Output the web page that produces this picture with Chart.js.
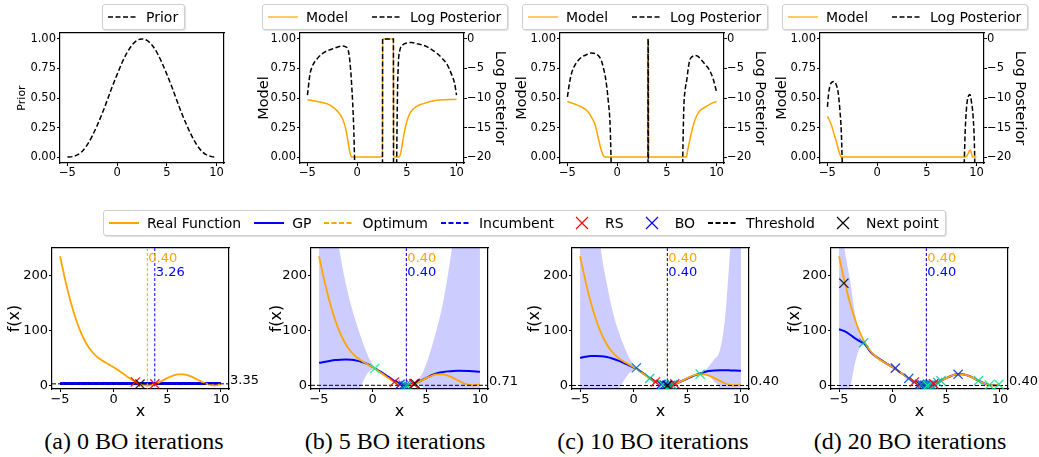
<!DOCTYPE html>
<html>
<head>
<meta charset="utf-8">
<script src="https://cdn.jsdelivr.net/npm/chart.js@4.4.1/dist/chart.umd.min.js"></script>
<style>
  body { margin: 0; width: 1039px; height: 457px; background: #fff; position: relative; overflow: hidden; font-family: "DejaVu Sans", sans-serif; }
  canvas { position: absolute; }
  .legend { position: absolute; z-index: 2; height: 26px; box-sizing: border-box; border: 1px solid #cfcfcf; border-radius: 3px; background: #fff;
            display: flex; align-items: center; padding: 0 6px 0 5px; font-size: 14px; color: #000; white-space: nowrap; box-shadow: 1px 1px 1px rgba(0,0,0,0.12); }
  .legend svg { margin-right: 8px; }
  .legend span { margin-right: 13px; }
  .legend.wide span { margin-right: 24px; }
  .legend span:last-child { margin-right: 0; }
  .caption { position: absolute; width: 300px; text-align: center; font-family: "Liberation Serif", serif; font-size: 24px; top: 428px; }
</style>
</head>
<body>
<script>
// ---------- data ----------
const xTicks = [-5, 0, 5, 10];
const probTicks = [0, 0.25, 0.5, 0.75, 1];
const logTicks = [0, -5, -10, -15, -20];
const fTicks = [0, 100, 200];
const captions = ['(a) 0 BO iterations', '(b) 5 BO iterations', '(c) 10 BO iterations', '(d) 20 BO iterations'];

// top row
const priorX = [-5,-4.5,-4,-3.5,-3,-2.5,-2,-1.5,-1,-0.5,0,0.5,1,1.5,2,2.5,3,3.5,4,4.5,5,5.5,6,6.5,7,7.5,8,8.5,9,9.5,10];
const priorY = [0,0.004,0.018,0.05,0.105,0.18,0.27,0.37,0.48,0.595,0.70,0.80,0.885,0.948,0.987,1,0.987,0.948,0.885,0.80,0.70,0.595,0.48,0.37,0.27,0.18,0.105,0.05,0.018,0.004,0];

const model5X = [-5,-4,-3,-2.4,-1.8,-1.4,-1.1,-0.9,-0.7,-0.55,2.55,2.56,3.65,3.66,4.2,4.4,4.6,4.9,5.3,6,6.6,8,10];
const model5Y = [0.485,0.47,0.45,0.42,0.37,0.31,0.22,0.12,0.03,0,0,1,1,0,0,0.04,0.14,0.27,0.37,0.43,0.45,0.48,0.49];
const logPost5X = [-5,-4.75,-4.5,-4,-3.5,-3,-2.5,-2,-1.5,-1.2,-0.9,-0.75,-0.57,-0.33,-0.2, 1, 2.55,2.56,3.65,3.66, 3.8, 3.95,4.05,4.15,4.3,4.6,5,5.5,6,6.5,7,7.5,8,8.5,9,9.5,9.8,10];
const logPost5Y = [-9.5,-6,-4.6,-3.3,-2.5,-2,-1.7,-1.4,-1.2,-1.3,-1.9,-3.5,-7.3,-15.8,-25, null, -25,0,0,-25, null, -25,-10,-4,-1.9,-1.0,-0.7,-0.6,-0.8,-1.0,-1.3,-1.8,-2.4,-3.2,-4.2,-6,-7.5,-9.5];

const model10X = [-5,-4,-3.5,-3,-2.6,-2.2,-1.9,-1.6,-1.4,-1.2,3.08,3.09,3.15,3.16,6.95,7.1,7.3,7.6,7.9,8.3,8.8,9.4,10];
const model10Y = [0.47,0.44,0.42,0.39,0.34,0.27,0.16,0.06,0.015,0,0,1,1,0,0,0.06,0.14,0.25,0.33,0.39,0.42,0.45,0.47];
const logPost10X = [-5,-4.8,-4.6,-4.3,-3.9,-3.5,-3,-2.6,-2.2,-1.9,-1.6,-1.4,-1.15,-0.9,-0.7,-0.55, 1, 3.1,3.11,3.13,3.14, 5, 6.55,6.7,6.85,7,7.15,7.3,7.55,7.8,8.1,8.5,8.9,9.3,9.7,10];
const logPost10Y = [-9.8,-7.5,-5.9,-4.6,-3.6,-3.0,-2.6,-2.4,-2.5,-2.8,-3.6,-4.8,-6.8,-10.4,-15,-25, null, -25,0,0,-25, null, -25,-12,-8.5,-7,-5,-3.6,-3.0,-2.8,-2.9,-3.6,-4.4,-5.3,-7,-9];

const model20X = [-5,-4.8,-4.6,-4.35,-4.1,-3.85,-3.6,8.9,9.15,9.35,9.5,9.6,10];
const model20Y = [0.344,0.31,0.27,0.2,0.13,0.05,0,0,0.03,0.06,0.03,0,0];
const logPost20X = [-5,-4.9,-4.77,-4.55,-4.33,-4.13,-3.93,-3.75,-3.6,-3.45, 0, 8.7,8.85,9,9.15,9.33,9.5,9.66,9.8,9.85];
const logPost20Y = [-11.5,-9.5,-8.1,-7.3,-7.2,-7.7,-9,-12,-16,-25, null, -25,-16,-11.5,-9.8,-9.4,-10.8,-13.3,-19,-25];

// bottom row
const realX = [-5,-4.5,-4,-3.5,-3,-2.5,-2,-1.5,-1,-0.5,0,0.5,1,1.5,2,2.5,3,3.14,3.5,4,4.5,5,5.5,6,6.5,7,7.5,8,8.5,9,9.42,9.5,10];
const realY = [235.1,190.3,151.5,119.3,93.9,74.7,61.1,51.7,44.8,39.2,33.5,27.2,20.3,13.3,7.1,2.6,0.5,0.4,1.1,4.1,8.7,13.7,18.1,20.6,20.7,18.4,14.2,9.2,4.4,1.3,0.4,0.5,2.5];
const optimumX = 3.14;
const optimumVal = 0.40;
const thresholds = [3.35, 0.71, 0.40, 0.40];
const incumbentX = [3.83, 3.14, 3.14, 3.14];
const incumbentVal = [3.26, 0.40, 0.40, 0.40];

const gp0X = [-5, 10];
const gp0Mean = [4.2, 4.2];
const gp0Upper = [5, 5];
const gp0Lower = [3.4, 3.4];

const gp5X = [-5,-4,-3.5,-3,-2.5,-2,-1.5,-1,-0.5,0,0.2,0.5,1,1.5,2,2.5,3,3.5,4,4.5,5,5.5,6,6.5,7,7.5,8,9,10];
const gp5Mean = [41.5,45,46.5,47.3,47.6,47,45.5,43,39.5,34,31.5,28,22,15.5,9,4,1.5,2,5,9,14,19,22.5,24.5,26,26.8,27,26.5,25.3];
const gp5Upper = [600,400,300,235,185,145,112,83,57,38,32,30,25,18,10,5,2.5,4,8,18,40,70,105,145,200,265,335,480,620];
const gp5Lower = [-517,-310,-207,-140,-90,-51,-21,3,22,30,31,26,19,13,8,3,0.5,0,2,0,-12,-32,-60,-96,-148,-211,-281,-427,-569];

const gp10X = [-5,-4.5,-4,-3.5,-3,-2.5,-2,-1.5,-1,-0.5,0,0.2,0.5,1,1.5,2,2.5,3,3.5,4,4.5,5,5.5,6,6.2,6.5,7,7.5,8,8.5,9,9.5,10];
const gp10Mean = [50.6,52.5,53.8,54,53.5,52,49.5,46,42,37.5,33,32,28,21,14,8,3.5,1,1.5,4,8.5,13,17.5,21,22,24,26.5,27.8,28,28,27.8,27.5,27];
const gp10Upper = [700,560,440,330,240,185,138,104,77,54,37,32.5,29,22,15,9,4.5,1.8,2.5,5.5,10.5,15.5,20,22.5,22.5,26,35,48,62,120,250,400,560];
const gp10Lower = [-599,-455,-332,-222,-133,-81,-39,-12,7,21,29,31.5,27,20,13,7,2.5,0.2,0.5,2.5,6.5,10.5,15,19.5,21.5,22,18,7.6,-6,-64,-194,-345,-506];

const gp20X = [-5,-4.5,-4,-3.5,-3,-2.7,-2.5,-2,-1.5,-1,-0.5,0,0.5,1,1.5,2,2.5,3,3.14,3.5,4,4.5,5,5.5,6,6.5,7,7.5,8,8.5,9,9.5,10];
const gp20Mean = [102.4,99,93,86,80,77,73,60,52,45.5,39.5,33.5,27.2,20.3,13.3,7.1,2.6,0.5,0.4,1.1,4.1,8.7,13.7,18.1,20.6,20.7,18.4,14.2,9.2,4.4,1.3,0.6,2];
const gp20Upper = [330,250,195,130,88,78,75,63,55,48,41,35,28.5,21.5,14.3,8,3.4,1.2,1,1.8,5,9.6,14.7,19.1,21.5,21.6,19.4,15.2,10.2,5.3,2.2,1.5,3];
const gp20Lower = [-125,-52,-9,42,72,76,71,57,49,43,38,32,26,19.1,12.3,6.2,1.8,-0.2,-0.2,0.4,3.2,7.8,12.7,17.1,19.7,19.8,17.4,13.2,8.2,3.5,0.4,-0.3,1];

const rsX = [2.03, 3.83];
const rsY = [6.8, 3.26];
const bo5X = [2.55, 2.85, 3.05, 3.25, 0.2];
const bo5Y = [2.3, 0.9, 0.45, 0.45, 31.5];
const bo10X = [2.55, 2.85, 3.05, 3.2, 0.25, 3.4, 3.6, 1.5, 6.2, 2.7];
const bo10Y = [2.3, 1.2, 0.5, 0.4, 32.5, 0.7, 1.5, 13.3, 21, 1.8];
const bo20X = [2.5, 3.0, 0.25, 6.1, 3.2, 2.8, 1.5, 3.35, 3.6, 3.1, 2.65, 4.2, 3.45, 3.8, -2.7, 4.5, 8.0, 9.0, 9.9, 3.25];
const bo20Y = [2.6, 0.5, 32, 20.7, 0.4, 1.2, 13.3, 0.6, 1.5, 0.45, 2.0, 5.8, 0.9, 2.8, 78, 8.7, 9.2, 1.3, 2.3, 0.42];
const next0 = [2.45, 3.0];
const next5 = [3.95, 4.0];
const next10 = [3.15, 0.5];
const next20 = [-4.55, 186];

// ---------- helpers ----------
const FONT = '"DejaVu Sans", sans-serif';
Chart.defaults.font.family = FONT;
Chart.defaults.color = '#000';
const ORANGE = '#FFA500';
const BLUE = '#0000FF';

const fmt = v => (v < 0 ? '\u2212' + Math.abs(v) : String(v));
const pts = (xs, ys) => xs.map((x, i) => ({ x: x, y: ys[i] }));
const winter = (t, a) => `rgba(0,${Math.round(255 * t)},${Math.round(255 * (1 - t / 2))},${a})`;

function makeCanvas(b) {
  const c = document.createElement('canvas');
  const W = b.w + b.mL + b.mR, H = b.h + b.mT + b.mB;
  c.width = W; c.height = H;
  c.style.cssText = `left:${b.left - b.mL}px;top:${b.top - b.mT}px;width:${W}px;height:${H}px`;
  document.body.appendChild(c);
  return c;
}

function xAxis(b, tickSize, title) {
  return {
    type: 'linear', position: 'bottom', min: -5.75, max: 10.75,
    afterBuildTicks: s => { s.ticks = xTicks.map(v => ({ value: v })); },
    afterFit: s => { s.height = b.mB; },
    ticks: { callback: fmt, color: '#000', font: { size: tickSize }, padding: 0, maxRotation: 0, autoSkip: false },
    grid: { drawOnChartArea: false, tickLength: 3, color: '#000' },
    border: { color: '#000', width: 1.2 },
    title: { display: !!title, text: title || '', color: '#000', font: { size: 16 }, padding: 0 }
  };
}

function yAxis(o) {
  return {
    type: 'linear', position: o.pos, min: o.min, max: o.max,
    afterBuildTicks: s => { s.ticks = o.ticks.map(v => ({ value: v })); },
    afterFit: s => { s.width = o.width; },
    ticks: { callback: o.format, color: '#000', font: { size: o.tickSize }, padding: o.pad, autoSkip: false },
    grid: { drawOnChartArea: false, tickLength: 3, color: '#000' },
    border: { color: '#000', width: 1.2 },
    title: { display: true, text: o.title, color: '#000', font: { size: o.titleSize }, padding: 0 }
  };
}

function edge(pos) {
  return {
    type: 'linear', position: pos, min: 0, max: 1,
    ticks: { display: false }, grid: { display: false, drawTicks: false },
    border: { display: true, color: '#000', width: 1.2 },
    afterFit: s => { if (pos === 'top') s.height = 0; else s.width = 0; }
  };
}

function notesPlugin(items) {
  return {
    id: 'notes',
    afterDatasetsDraw(chart) {
      const { ctx, chartArea, scales } = chart;
      ctx.save();
      ctx.font = '13px ' + FONT;
      ctx.textAlign = 'left';
      ctx.textBaseline = 'alphabetic';
      items.forEach(t => {
        ctx.fillStyle = t.color;
        const px = t.x === 'right' ? chartArea.right + 1 : scales.x.getPixelForValue(t.x) + 1;
        ctx.fillText(t.text, px, scales.y.getPixelForValue(t.y));
      });
      ctx.restore();
    }
  };
}

function line(data, color, width, dash, yAxisID, order) {
  return { data: data, borderColor: color, borderWidth: width, borderDash: dash || [], pointRadius: 0,
           cubicInterpolationMode: 'monotone', fill: false, yAxisID: yAxisID || 'y', order: order || 5 };
}

function marks(data, colors, order) {
  return { data: data, showLine: false, pointStyle: 'crossRot', pointRadius: 6.5, pointBorderWidth: 1.3,
           pointBorderColor: colors, pointBackgroundColor: 'rgba(0,0,0,0)', order: order || 1 };
}

function baseOptions(b, scales, rightPad) {
  return {
    responsive: false, animation: false, events: [],
    layout: { padding: { top: b.mT, right: rightPad, left: 0, bottom: 0 } },
    plugins: { legend: { display: false }, tooltip: { enabled: false } },
    scales: scales
  };
}

// ---------- top row ----------
const topBoxes = [
  { left: 60, top: 33, w: 164, h: 130, mL: 44, mT: 10, mR: 10, mB: 20 },
  { left: 300, top: 33, w: 164, h: 130, mL: 44, mT: 10, mR: 44, mB: 20 },
  { left: 560, top: 33, w: 164, h: 130, mL: 46, mT: 10, mR: 44, mB: 20 },
  { left: 820, top: 33, w: 164, h: 130, mL: 46, mT: 10, mR: 44, mB: 20 }
];

(function () {
  const b = topBoxes[0];
  new Chart(makeCanvas(b), {
    type: 'line',
    data: { datasets: [line(pts(priorX, priorY), '#000', 1.5, [5, 2.5])] },
    options: baseOptions(b, {
      x: xAxis(b, 11.5, ''),
      xTop: edge('top'),
      y: yAxis({ pos: 'left', width: b.mL, min: -0.05, max: 1.05, ticks: probTicks, format: v => v.toFixed(2),
                 title: 'Prior', titleSize: 11, tickSize: 11.5, pad: 1 }),
      yRight: edge('right')
    }, b.mR)
  });
})();

const posteriors = [
  [model5X, model5Y, logPost5X, logPost5Y],
  [model10X, model10Y, logPost10X, logPost10Y],
  [model20X, model20Y, logPost20X, logPost20Y]
];
posteriors.forEach((p, i) => {
  const b = topBoxes[i + 1];
  new Chart(makeCanvas(b), {
    type: 'line',
    data: { datasets: [
      line(pts(p[0], p[1]), ORANGE, 1.5, null, 'y', 3),
      line(pts(p[2], p[3]), '#000', 1.5, [5, 2.5], 'y2', 2)
    ] },
    options: baseOptions(b, {
      x: xAxis(b, 11.5, ''),
      xTop: edge('top'),
      y: yAxis({ pos: 'left', width: b.mL, min: -0.05, max: 1.05, ticks: probTicks, format: v => v.toFixed(2),
                 title: 'Model', titleSize: 14.5, tickSize: 11.5, pad: 1 }),
      y2: yAxis({ pos: 'right', width: b.mR, min: -21, max: 1, ticks: logTicks, format: fmt,
                  title: 'Log Posterior', titleSize: 14.5, tickSize: 11.5, pad: 0 })
    }, 0)
  });
});

// ---------- bottom row ----------
const botBoxes = [
  { left: 52, top: 248, w: 177, h: 141, mL: 47, mT: 10, mR: 32, mB: 32 },
  { left: 311, top: 248, w: 177, h: 141, mL: 44, mT: 10, mR: 32, mB: 32 },
  { left: 572, top: 248, w: 177, h: 141, mL: 47, mT: 10, mR: 32, mB: 32 },
  { left: 831, top: 248, w: 177, h: 141, mL: 46, mT: 10, mR: 30, mB: 32 }
];
const gps = [
  [gp0X, gp0Mean, gp0Upper, gp0Lower, [], [], next0],
  [gp5X, gp5Mean, gp5Upper, gp5Lower, bo5X, bo5Y, next5],
  [gp10X, gp10Mean, gp10Upper, gp10Lower, bo10X, bo10Y, next10],
  [gp20X, gp20Mean, gp20Upper, gp20Lower, bo20X, bo20Y, next20]
];

gps.forEach((g, i) => {
  const b = botBoxes[i];
  const n = g[4].length;
  const boColors = g[4].map((_, k) => winter(n > 1 ? k / (n - 1) : 0, 0.85));
  const datasets = [
    { data: pts(g[0], g[2]), borderWidth: 0, pointRadius: 0, cubicInterpolationMode: 'monotone',
      backgroundColor: 'rgba(0,0,255,0.2)', fill: '+1', order: 9 },
    { data: pts(g[0], g[3]), borderWidth: 0, pointRadius: 0, cubicInterpolationMode: 'monotone', fill: false, order: 9 },
    line(pts(g[0], g[1]), BLUE, i === 0 ? 3 : 2, null, 'y', 6),
    line(pts(realX, realY), ORANGE, 1.8, null, 'y', 5),
    line([{ x: -5.75, y: thresholds[i] }, { x: 10.75, y: thresholds[i] }], '#000', 1, [4, 2], 'y', 4),
    line([{ x: optimumX, y: -10 }, { x: optimumX, y: 300 }], ORANGE, 1, [3, 2], 'y', 4),
    line([{ x: incumbentX[i], y: -10 }, { x: incumbentX[i], y: 300 }], BLUE, 1, [3, 2], 'y', 3),
    marks(pts(rsX, rsY), 'rgba(255,0,0,0.9)', 2),
    marks(pts(g[4], g[5]), boColors, 2),
    marks([{ x: g[6][0], y: g[6][1] }], 'rgba(0,0,0,0.85)', 1)
  ];
  const notes = [
    { x: optimumX, y: 225, text: optimumVal.toFixed(2), color: ORANGE },
    { x: incumbentX[i], y: 200, text: incumbentVal[i].toFixed(2), color: BLUE },
    { x: 'right', y: thresholds[i], text: thresholds[i].toFixed(2), color: '#000' }
  ];
  new Chart(makeCanvas(b), {
    type: 'line',
    data: { datasets: datasets },
    options: baseOptions(b, {
      x: xAxis(b, 13, 'x'),
      xTop: edge('top'),
      y: yAxis({ pos: 'left', width: b.mL, min: -6, max: 250, ticks: fTicks, format: fmt,
                 title: 'f(x)', titleSize: 16, tickSize: 13, pad: 1 }),
      yRight: edge('right')
    }, b.mR),
    plugins: [notesPlugin(notes)]
  });
});

// ---------- legends & captions ----------
function sample(kind, color, dashed, width) {
  if (kind === 'x') {
    return `<svg width="30" height="14"><path d="M9 1 L21 13 M21 1 L9 13" stroke="${color}" stroke-width="1.2" fill="none"/></svg>`;
  }
  return `<svg width="30" height="10"><line x1="0" y1="5" x2="30" y2="5" stroke="${color}" stroke-width="${width}"` +
         (dashed ? ' stroke-dasharray="5,2.5"' : '') + '/></svg>';
}
function legend(left, top, items, cls) {
  const d = document.createElement('div');
  d.className = 'legend' + (cls ? ' ' + cls : '');
  d.style.left = left + 'px';
  d.style.top = top + 'px';
  d.innerHTML = items.map(it => sample(it[0], it[1], it[2], it[3]) + `<span>${it[4]}</span>`).join('');
  document.body.appendChild(d);
}
legend(102, 4, [['l', '#000', true, 1.5, 'Prior']]);
[262, 522, 782].forEach(l => legend(l, 4, [['l', ORANGE, false, 1.2, 'Model'], ['l', '#000', true, 1.5, 'Log Posterior']], 'wide'));
legend(103, 210, [
  ['l', ORANGE, false, 2, 'Real Function'],
  ['l', BLUE, false, 2, 'GP'],
  ['l', ORANGE, true, 2, 'Optimum'],
  ['l', BLUE, true, 2, 'Incumbent'],
  ['x', '#FF0000', false, 1, 'RS'],
  ['x', BLUE, false, 1, 'BO'],
  ['l', '#000', true, 2, 'Threshold'],
  ['x', '#000', false, 1, 'Next point']
]);

const capCenters = [134, 395, 653, 910];
captions.forEach((t, i) => {
  const d = document.createElement('div');
  d.className = 'caption';
  d.style.left = (capCenters[i] - 150) + 'px';
  d.textContent = t;
  document.body.appendChild(d);
});
</script>
</body>
</html>
